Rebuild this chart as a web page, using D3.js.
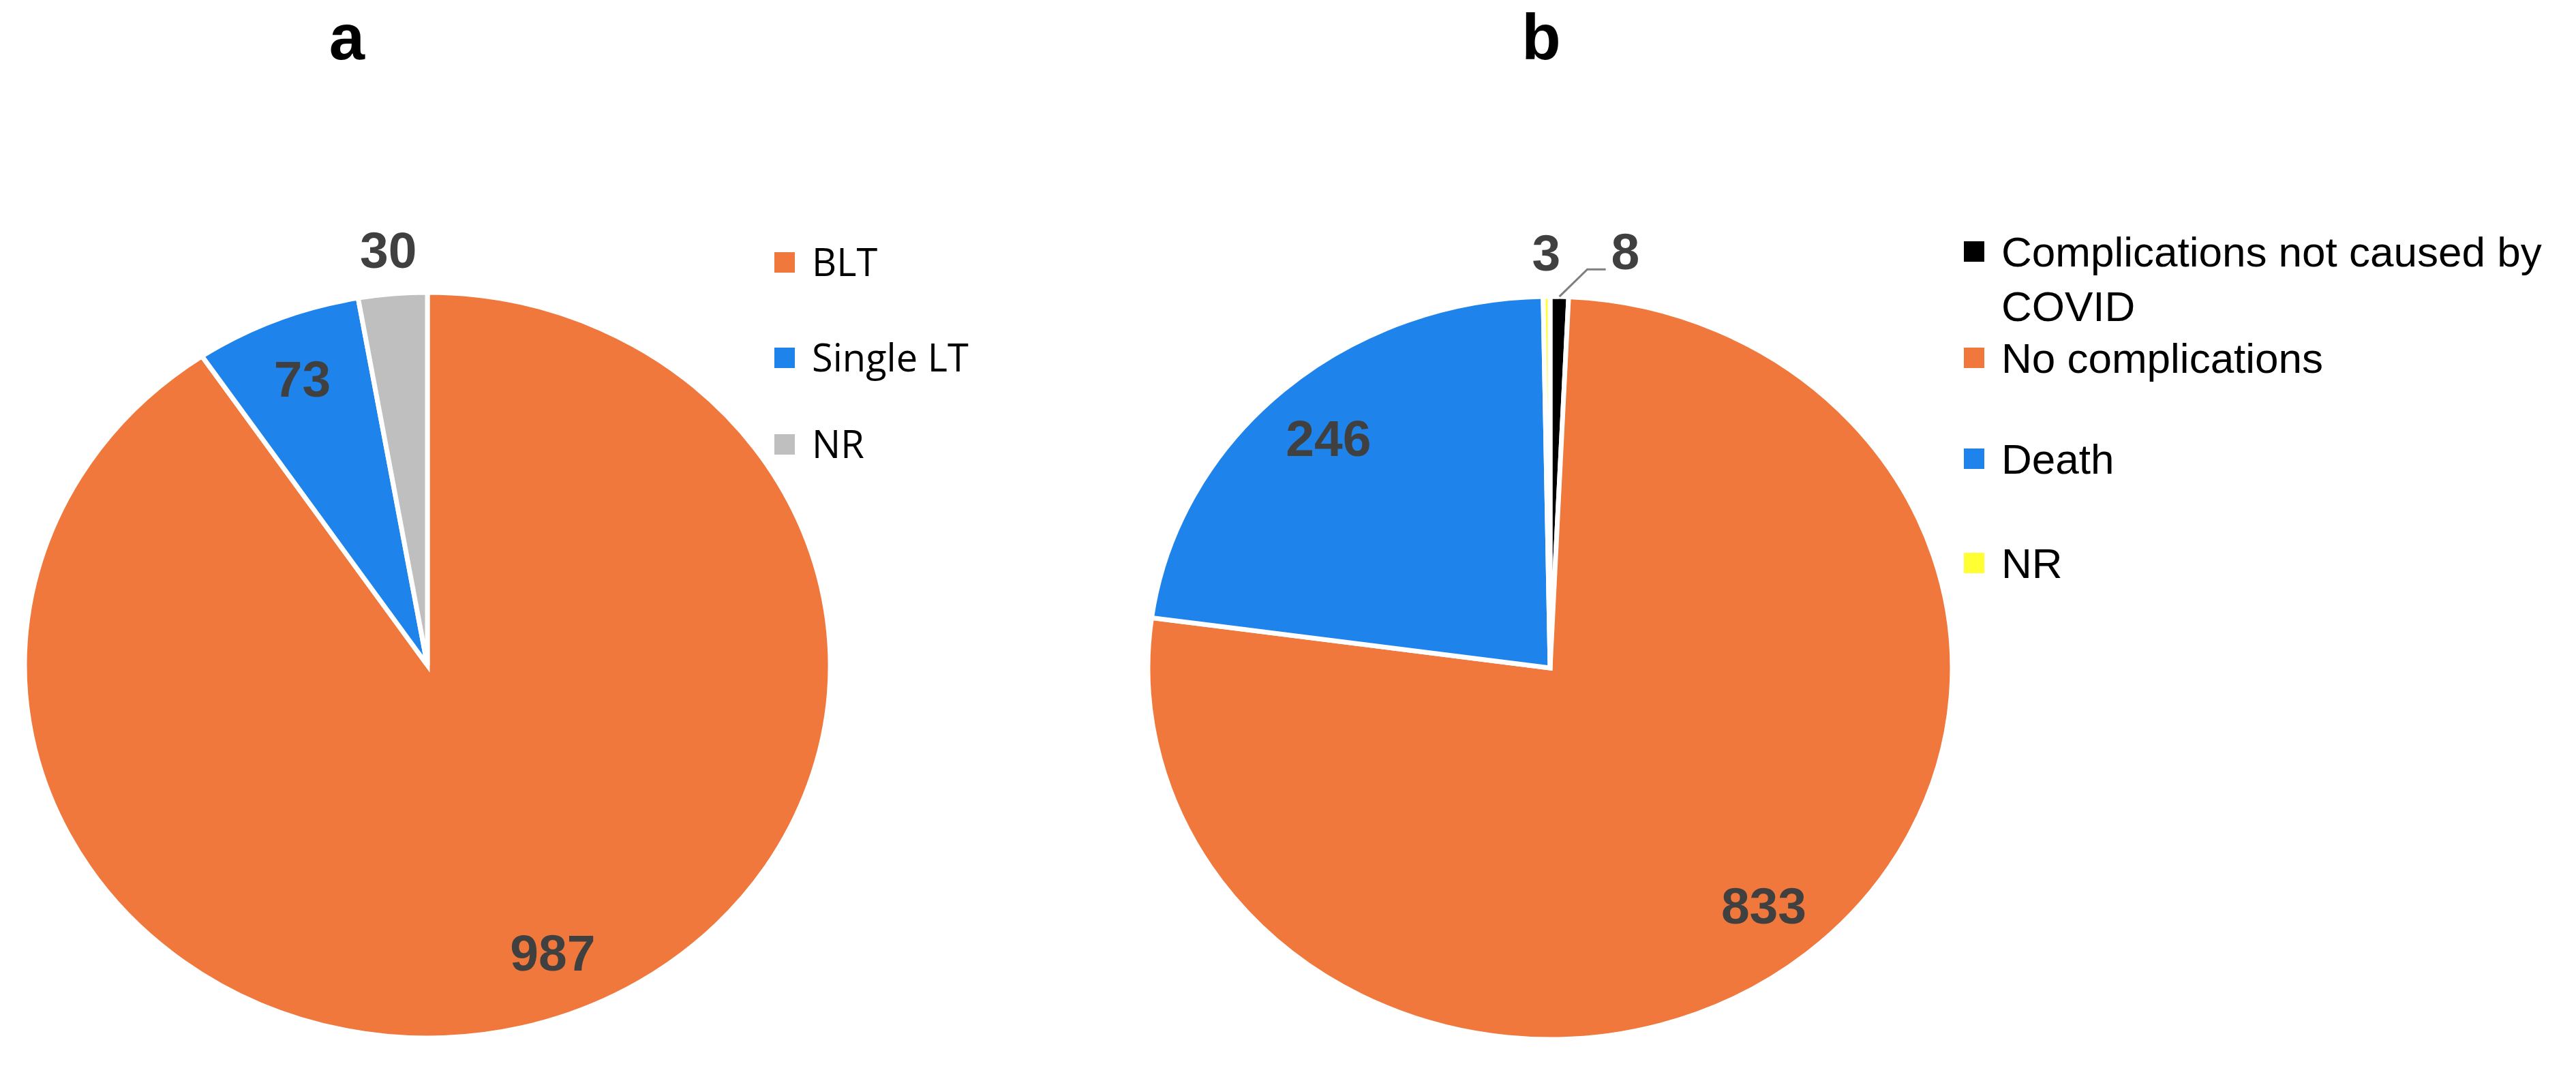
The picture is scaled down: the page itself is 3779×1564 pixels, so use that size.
<!DOCTYPE html>
<html>
<head>
<meta charset="utf-8">
<script src="https://cdn.jsdelivr.net/npm/d3@7.9.0/dist/d3.min.js"></script>
<style>
  body { margin: 0; background: #fff; }
  svg { display: block; }
</style>
</head>
<body>
<div id="chart"></div>
<script>
// panel a: type of lung transplant
const aCategories = ['BLT', 'Single LT', 'NR'];
const aValues = [987, 73, 30];
const aColors = ['#F1783C', '#1E84EC', '#BFBFBF'];

// panel b: outcome
const bCategories = ['Complications not caused by COVID', 'No complications', 'Death', 'NR'];
const bValues = [8, 833, 246, 3];
const bColors = ['#000000', '#F1783C', '#1E84EC', '#FFFF33'];

const width = 3779;
const height = 1564;

const svg = d3.select('#chart')
  .append('svg')
  .attr('width', width)
  .attr('height', height)
  .attr('viewBox', `0 0 ${width} ${height}`);

const labelFont = '"Liberation Sans", Arial, sans-serif';

function drawPie(opts) {
  const { categories, values, colors, cx, cy, rx, ry, title, titleX } = opts;
  const data = categories.map((c, i) => ({ cat: c, value: values[i], color: colors[i] }));
  const total = d3.sum(values);

  const pie = d3.pie().sort(null).value(d => d.value);
  const arcs = pie(data);

  // the pies in the figure are a little wider than tall
  const sx = rx / ry;
  const g = svg.append('g')
    .attr('transform', `translate(${cx},${cy}) scale(${sx},1)`);

  g.selectAll('path')
    .data(arcs)
    .join('path')
    .attr('d', d3.arc().innerRadius(0).outerRadius(ry))
    .attr('fill', d => d.data.color)
    .attr('stroke', '#fff')
    .attr('stroke-width', 7)
    .attr('vector-effect', 'non-scaling-stroke');

  svg.append('text')
    .attr('x', titleX)
    .attr('y', 87)
    .attr('text-anchor', 'middle')
    .style('font-family', labelFont)
    .style('font-weight', 'bold')
    .style('font-size', '94px')
    .text(title);

  // data labels
  const pos = (d, k, shift = 0) => {
    const a = (d.startAngle + d.endAngle) / 2 + shift * Math.PI / 180;
    return [cx + Math.sin(a) * k * rx, cy - Math.cos(a) * k * ry];
  };

  arcs.forEach(d => {
    const small = d.value / total < 0.03;
    const shift = (opts.labelShift && opts.labelShift[d.data.cat]) || 0;
    if (small && opts.leader && opts.leader.includes(d.data.cat)) {
      const [x0, y0] = pos(d, 1.0);
      const x1 = x0 + 41, y1 = y0 - 40;
      const x2 = x1 + 27;
      svg.append('polyline')
        .attr('points', `${x0},${y0} ${x1},${y1} ${x2},${y1}`)
        .attr('fill', 'none')
        .attr('stroke', '#7f7f7f')
        .attr('stroke-width', 3);
      svg.append('text')
        .attr('x', x2 + 8)
        .attr('y', y1)
        .style('font-family', labelFont)
        .style('font-weight', 'bold')
        .style('font-size', '75px')
        .attr('fill', '#404040')
        .text(d.value);
      return;
    }
    const [x, y] = pos(d, small ? 1.12 : 0.83, shift);
    svg.append('text')
      .attr('x', x)
      .attr('y', y)
      .attr('dy', '0.36em')
      .attr('text-anchor', 'middle')
      .style('font-family', labelFont)
      .style('font-weight', 'bold')
      .style('font-size', '75px')
      .attr('fill', '#404040')
      .text(d.value);
  });

  // legend
  const lg = svg.append('g');
  data.forEach((d, i) => {
    const y = opts.legendRows[i];
    lg.append('rect')
      .attr('x', opts.legendX)
      .attr('y', y - 15)
      .attr('width', 30)
      .attr('height', 30)
      .attr('fill', d.color);
    const t = lg.append('text')
      .attr('x', opts.legendX + 55)
      .attr('y', y)
      .attr('dy', '0.35em')
      .style('font-family', opts.legendFont)
      .style('font-size', opts.legendSize)
      .attr('fill', '#000');
    // wrap long entries
    const words = d.cat.split(' ');
    let line = [];
    let tspan = t.append('tspan').attr('x', opts.legendX + 55);
    words.forEach(w => {
      line.push(w);
      tspan.text(line.join(' '));
      if (tspan.node().getComputedTextLength() > opts.legendMaxWidth && line.length > 1) {
        line.pop();
        tspan.text(line.join(' '));
        line = [w];
        tspan = t.append('tspan')
          .attr('x', opts.legendX + 55)
          .attr('dy', 80)
          .text(w);
      }
    });
  });
}

drawPie({
  categories: aCategories, values: aValues, colors: aColors,
  cx: 627, cy: 976, rx: 591, ry: 547,
  title: 'a', titleX: 509,
  labelShift: { 'BLT': -5 },
  legendX: 1136, legendRows: [385, 525, 652], legendMaxWidth: 900,
  legendFont: '"Open Sans", "Noto Sans", sans-serif', legendSize: '56px',
});

drawPie({
  categories: bCategories, values: bValues, colors: bColors,
  cx: 2274, cy: 980, rx: 590, ry: 545,
  title: 'b', titleX: 2261,
  leader: ['Complications not caused by COVID'],
  legendX: 2881, legendRows: [369, 525, 673, 826], legendMaxWidth: 860,
  legendFont: '"Liberation Sans", Arial, sans-serif', legendSize: '62px',
});
</script>
</body>
</html>
